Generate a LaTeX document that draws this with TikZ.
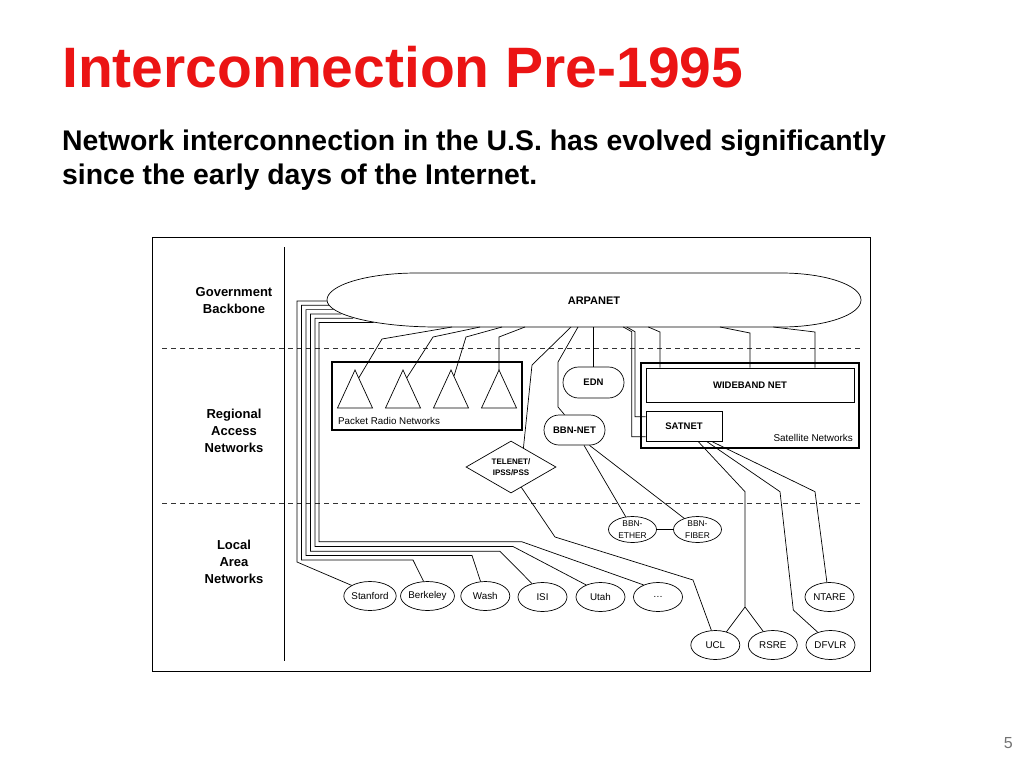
\documentclass[tikz,border=0pt]{standalone}
\usepackage{fontspec}
\setmainfont{Liberation Sans}
\usetikzlibrary{shapes.geometric,shapes.misc}
\definecolor{titlered}{RGB}{235,20,20}
\begin{document}
\begin{tikzpicture}[x=1pt,y=-1pt,
  wire/.style={line width=0.7pt},
  lan/.style={ellipse,draw,line width=0.7pt,minimum width=49pt,minimum height=29pt,inner sep=0pt,font=\fontsize{9.8}{11}\selectfont},
  smalllan/.style={lan,minimum width=48pt,minimum height=26pt,align=center,font=\fontsize{8.4}{11.5}\selectfont},
  pill/.style={rounded rectangle,draw,line width=0.7pt,minimum width=61pt,minimum height=30pt,inner sep=0pt,font=\fontsize{9.5}{11}\selectfont\bfseries},
  netbox/.style={rectangle,draw,line width=0.7pt,inner sep=0pt,font=\fontsize{9.5}{11}\selectfont\bfseries},
  group/.style={rectangle,draw,line width=1.6pt,inner sep=0pt},
  layerlbl/.style={align=center,font=\fontsize{13}{17}\selectfont\bfseries},
  sep/.style={line width=0.7pt,dash pattern=on 5pt off 4pt,draw=black!80},
  plain/.style={anchor=base west,inner sep=0pt,font=\fontsize{9.8}{11}\selectfont}]
\useasboundingbox (0,0) rectangle (1024,768);
\fill[white] (0,0) rectangle (1024,768);

% title and subtitle
\node[anchor=base west,inner sep=0pt,text=titlered,font=\fontsize{57}{68}\selectfont\bfseries] (title) at (62,87) {Interconnection Pre-1995};
\node[anchor=base west,inner sep=0pt,font=\fontsize{28.4}{34}\selectfont\bfseries] (sub1) at (62,150) {Network interconnection in the U.S. has evolved significantly};
\node[anchor=base west,inner sep=0pt,font=\fontsize{28.4}{34}\selectfont\bfseries] (sub2) at (62,184) {since the early days of the Internet.};
\node[anchor=base east,inner sep=0pt,text=black!55,font=\fontsize{16}{18}\selectfont] (pagenum) at (1013,748) {5};

% frame, divider, layer separators
\draw[line width=0.8pt] (152,237) rectangle (870,671);
\draw[wire] (284,247) -- (284,661);
\draw[sep] (162,348) -- (860,348);
\draw[sep] (162,503) -- (860,503);

\node[layerlbl] (lblgov) at (234,301) {Government\\Backbone};
\node[layerlbl] (lblreg) at (234,431) {Regional\\Access\\Networks};
\node[layerlbl] (lbllan) at (234,562) {Local\\Area\\Networks};

% ARPANET
\draw[wire,fill=white] (417,273) -- (781,273) arc[start angle=-90,end angle=90,x radius=80,y radius=27] -- (437,327) arc[start angle=90,end angle=180,x radius=110,y radius=27] arc[start angle=180,end angle=270,x radius=90,y radius=27] -- cycle;
\node[font=\fontsize{11}{13}\selectfont\bfseries] (arpanet) at (594,301) {ARPANET};
\coordinate (ab1) at (452,327);
\coordinate (ab2) at (480,327);
\coordinate (ab3) at (502,327);
\coordinate (ab4) at (525,327);
\coordinate (abtel) at (571,327);
\coordinate (abbbn) at (578,327);
\coordinate (abs1) at (623.3,327);
\coordinate (abs2) at (626.7,327);
\coordinate (abw1) at (648.3,327);
\coordinate (abw2) at (720,327);
\coordinate (abw3) at (773.3,327);
\coordinate (al0) at (327.1,301);
\coordinate (al1) at (328.9,305.3);
\coordinate (al2) at (333.5,309.6);
\coordinate (al3) at (341.3,313.9);
\coordinate (al4) at (353.1,318.2);
\coordinate (al5) at (373.7,322.5);

% Packet radio networks
\node[group,minimum width=190pt,minimum height=68pt] (prn) at (427,396) {};
\node[plain] (prnlbl) at (338,424.5) {Packet Radio Networks};
\foreach \i/\x in {1/355,2/403,3/451,4/499}{
  \draw[wire] (\x,370) coordinate (pr\i) -- (\x+17.5,408) -- (\x-17.5,408) -- cycle;
}
\coordinate (pr1c) at (358.7,378);
\coordinate (pr2c) at (406.7,378);
\coordinate (pr3c) at (454,376);
\draw[wire] (pr1c) -- (382,339) -- (ab1);
\draw[wire] (pr2c) -- (433,337) -- (ab2);
\draw[wire] (pr3c) -- (466,337) -- (ab3);
\draw[wire] (pr4) -- (499,337) -- (ab4);

% EDN, BBN-NET, TELENET
\node[pill,minimum height=31pt] (edn) at (593.5,382.5) {EDN};
\draw[wire] (edn.north) -- (edn.north |- ab1);
\node[pill] (bbnnet) at (574.5,430) {BBN-NET};
\draw[wire] ([xshift=-10pt]bbnnet.north) -- (558,407) -- (558,362) -- (abbbn);
\node[diamond,draw,line width=0.7pt,aspect=1.73,minimum width=90pt,minimum height=52pt,inner sep=0pt,align=center,font=\fontsize{8}{11}\selectfont\bfseries] (telenet) at (511,467) {TELENET/\\IPSS/PSS};
\draw[wire] (telenet.57) -- (532,365) -- (abtel);

% Satellite networks
\node[group,minimum width=218pt,minimum height=85pt] (satgrp) at (750,405.5) {};
\node[anchor=base east,inner sep=0pt,font=\fontsize{9.9}{11}\selectfont] (satlbl) at (853,441.5) {Satellite Networks};
\node[netbox,minimum width=208pt,minimum height=34pt] (wideband) at (750,385) {WIDEBAND NET};
\node[netbox,minimum width=76pt,minimum height=30pt] (satnet) at (684,426) {SATNET};
\draw[wire] (abw1) -- (660,332) -- ([xshift=-90pt]wideband.north);
\draw[wire] (abw2) -- (750,333) -- (wideband.north);
\draw[wire] (abw3) -- (815,332) -- ([xshift=65pt]wideband.north);
\draw[wire] (abs1) -- (631.7,331.7) |- ([yshift=-10.7pt]satnet.west);
\draw[wire] (abs2) -- (635,331.7) |- ([yshift=9.3pt]satnet.west);

% BBN local nets
\node[smalllan] (ether) at (632.5,529.5) {BBN-\\ETHER};
\node[smalllan] (fiber) at (697.5,529.5) {BBN-\\FIBER};
\draw[wire] (ether) -- (fiber);
\draw[wire] ([xshift=9.5pt]bbnnet.south) -- (ether.118);
\draw[wire] ([xshift=15pt]bbnnet.south) -- (fiber.140);

% LAN nodes
\node[lan] (stanford) at (370,596) {Stanford};
\node[lan] (berkeley) at (427.5,596) {Berkeley};
\node[lan] (wash) at (485.3,596) {Wash};
\node[lan] (isi) at (542.5,597) {ISI};
\node[lan] (utah) at (600.5,597) {Utah};
\node[lan] (dots) at (658,597) {…};
\node[lan] (ntare) at (829.5,597) {NTARE};
\node[lan] (ucl) at (715.3,645) {UCL};
\node[lan] (rsre) at (772.8,645) {RSRE};
\node[lan] (dfvlr) at (830.5,645) {DFVLR};

% nested ARPANET lines to LANs
\draw[wire] (al0) -- (297,301) -- (297,562) -- (stanford.150);
\draw[wire] (al1) -- (301.5,305.3) -- (301.5,560) -- (413,560) -- (berkeley.105);
\draw[wire] (al2) -- (306,309.6) -- (306,555.5) -- (472,555.5) -- (wash.108);
\draw[wire] (al3) -- (310.5,313.9) -- (310.5,551.3) -- (500,551.3) -- (isi.128);
\draw[wire] (al4) -- (315,318.2) -- (315,546.5) -- (513,546.5) -- (utah.140);
\draw[wire] (al5) -- (319,322.5) -- (319,541.7) -- (521.7,541.7) -- (dots.140);

% TELENET to UCL
\draw[wire] (telenet.-63) -- (555,537) -- (693,580) -- (ucl.105);

% SATNET to european sites
\draw[wire] ([xshift=14pt]satnet.south) -- (745,491.7) -- (745,607) coordinate (split) -- (ucl.50);
\draw[wire] (split) -- (rsre.125);
\draw[wire] ([xshift=22.5pt]satnet.south) -- (780,491.7) -- (793.3,610) -- (dfvlr.135);
\draw[wire] ([xshift=27.5pt]satnet.south) -- (815,491.7) -- (ntare.100);
\end{tikzpicture}
\end{document}
